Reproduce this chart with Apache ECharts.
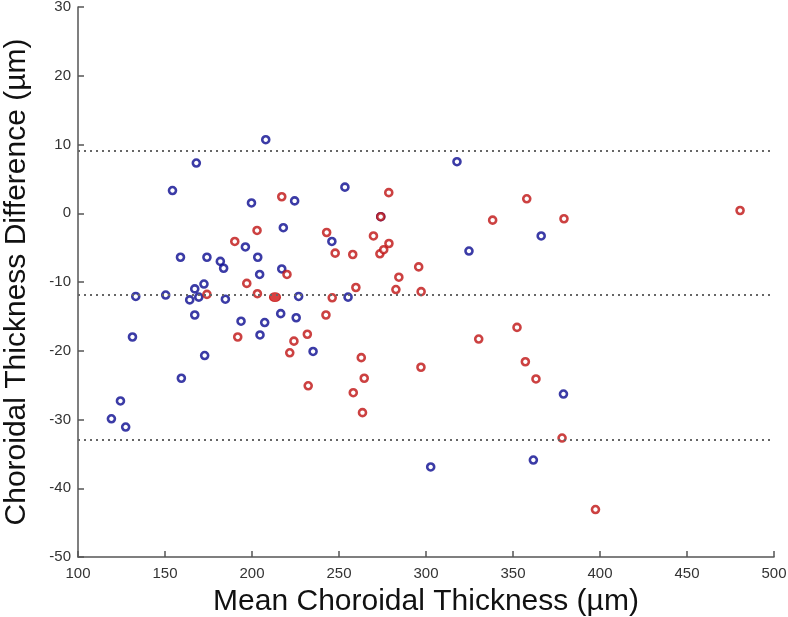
<!DOCTYPE html>
<html>
<head>
<meta charset="utf-8">
<script src="https://cdn.jsdelivr.net/npm/echarts@6/dist/echarts.min.js"></script>
<style>
html,body{margin:0;padding:0;background:#fff;}
#chart{width:788px;height:617px;}
</style>
</head>
<body>
<div id="chart"></div>
<script>
// Mean choroidal thickness (x) and difference (y)
var blueX = [119.2,124.4,127.4,131.3,133.2,150.4,154.3,158.9,159.4,164.2,167.1,167.1,168.0,169.4,172.4,172.8,174.1,181.8,183.7,184.7,193.7,196.2,199.7,203.3,204.4,204.6,207.3,207.9,216.5,217.1,218.0,224.5,225.4,226.8,235.1,245.9,253.4,255.2,274.0,302.7,317.8,324.7,361.7,366.2,379.0];
var blueY = [-29.9,-27.3,-31.1,-18.0,-12.1,-11.9,3.3,-6.4,-24.0,-12.6,-11.0,-14.8,7.3,-12.2,-10.3,-20.7,-6.4,-7.0,-8.0,-12.5,-15.7,-4.9,1.5,-6.4,-8.9,-17.7,-15.9,10.7,-14.6,-8.1,-2.1,1.8,-15.2,-12.1,-20.1,-4.1,3.8,-12.2,-0.5,-36.9,7.5,-5.5,-35.9,-3.3,-26.3];
var redX = [174.1,190.1,191.8,197.0,202.9,203.1,217.1,220.1,221.7,224.1,231.8,232.3,242.5,242.9,246.1,247.8,257.9,258.2,259.7,262.8,263.5,264.5,269.8,274.0,273.5,275.7,278.7,278.6,282.7,284.4,295.8,297.2,297.1,330.3,338.3,352.3,357.1,357.9,363.2,378.2,379.3,397.4,480.5];
var redY = [-11.8,-4.1,-18.0,-10.2,-2.5,-11.7,2.4,-8.9,-20.3,-18.6,-17.6,-25.1,-14.8,-2.8,-12.3,-5.8,-6.0,-26.1,-10.8,-21.0,-29.0,-24.0,-3.3,-0.5,-5.9,-5.3,-4.4,3.0,-11.1,-9.3,-7.8,-11.4,-22.4,-18.3,-1.0,-16.6,-21.6,2.1,-24.1,-32.7,-0.8,-43.1,0.4];
var filledX = [213.2];
var filledY = [-12.2];
// Bland-Altman lines: upper limit, mean, lower limit
var limitLines = [9.1, -11.9, -32.9];
var xTicks = [100,150,200,250,300,350,400,450,500];
var yTicks = [-50,-40,-30,-20,-10,0,10,20,30];

function zip(a,b){ var r=[]; for(var i=0;i<a.length;i++) r.push([a[i],b[i]]); return r; }

var chart = echarts.init(document.getElementById('chart'));
var axisCol = '#555';
chart.setOption({
  backgroundColor:'#fff',
  animation:false,
  grid:{left:78,right:14,top:7,bottom:60,containLabel:false,outerBoundsMode:'none'},
  xAxis:{
    type:'value',min:xTicks[0],max:xTicks[xTicks.length-1],interval:50,
    name:'Mean Choroidal Thickness (µm)',nameLocation:'middle',nameGap:30,
    nameTextStyle:{fontFamily:'Liberation Sans, Arial',fontSize:30,color:'#111'},
    axisLine:{onZero:false,lineStyle:{color:axisCol,width:1.5}},
    axisTick:{inside:true,length:6,lineStyle:{color:axisCol,width:1.5}},
    axisLabel:{fontFamily:'Liberation Sans, Arial',fontSize:15,color:'#333',margin:9},
    splitLine:{show:false}
  },
  yAxis:{
    type:'value',min:yTicks[0],max:yTicks[yTicks.length-1],interval:10,
    name:'Choroidal Thickness Difference (µm)',nameLocation:'middle',nameGap:46,
    nameTextStyle:{fontFamily:'Liberation Sans, Arial',fontSize:30,color:'#111'},
    axisLine:{onZero:false,lineStyle:{color:axisCol,width:1.5}},
    axisTick:{inside:true,length:6,lineStyle:{color:axisCol,width:1.5}},
    axisLabel:{fontFamily:'Liberation Sans, Arial',fontSize:15,color:'#333',margin:7},
    splitLine:{show:false}
  },
  series:[
    {
      type:'scatter',data:zip(blueX,blueY),symbol:'circle',symbolSize:7,
      itemStyle:{color:'#fff',borderColor:'#0a0a90',borderWidth:2.6},
      markLine:{
        silent:true,symbol:['none','none'],label:{show:false},
        lineStyle:{color:'#666',width:2,type:[2,4]},
        data:limitLines.map(function(v){return {yAxis:v};})
      },
      z:2
    },
    {
      type:'scatter',data:zip(redX,redY),symbol:'circle',symbolSize:7,
      itemStyle:{color:'#fff',borderColor:'#bf1212',borderWidth:2.6},
      z:3
    },
    {
      type:'scatter',data:zip(filledX,filledY),symbol:'circle',symbolSize:[11,9],
      itemStyle:{color:'#d01010',borderColor:'#c01010',borderWidth:1},
      z:4
    }
  ]
});
</script>
</body>
</html>
